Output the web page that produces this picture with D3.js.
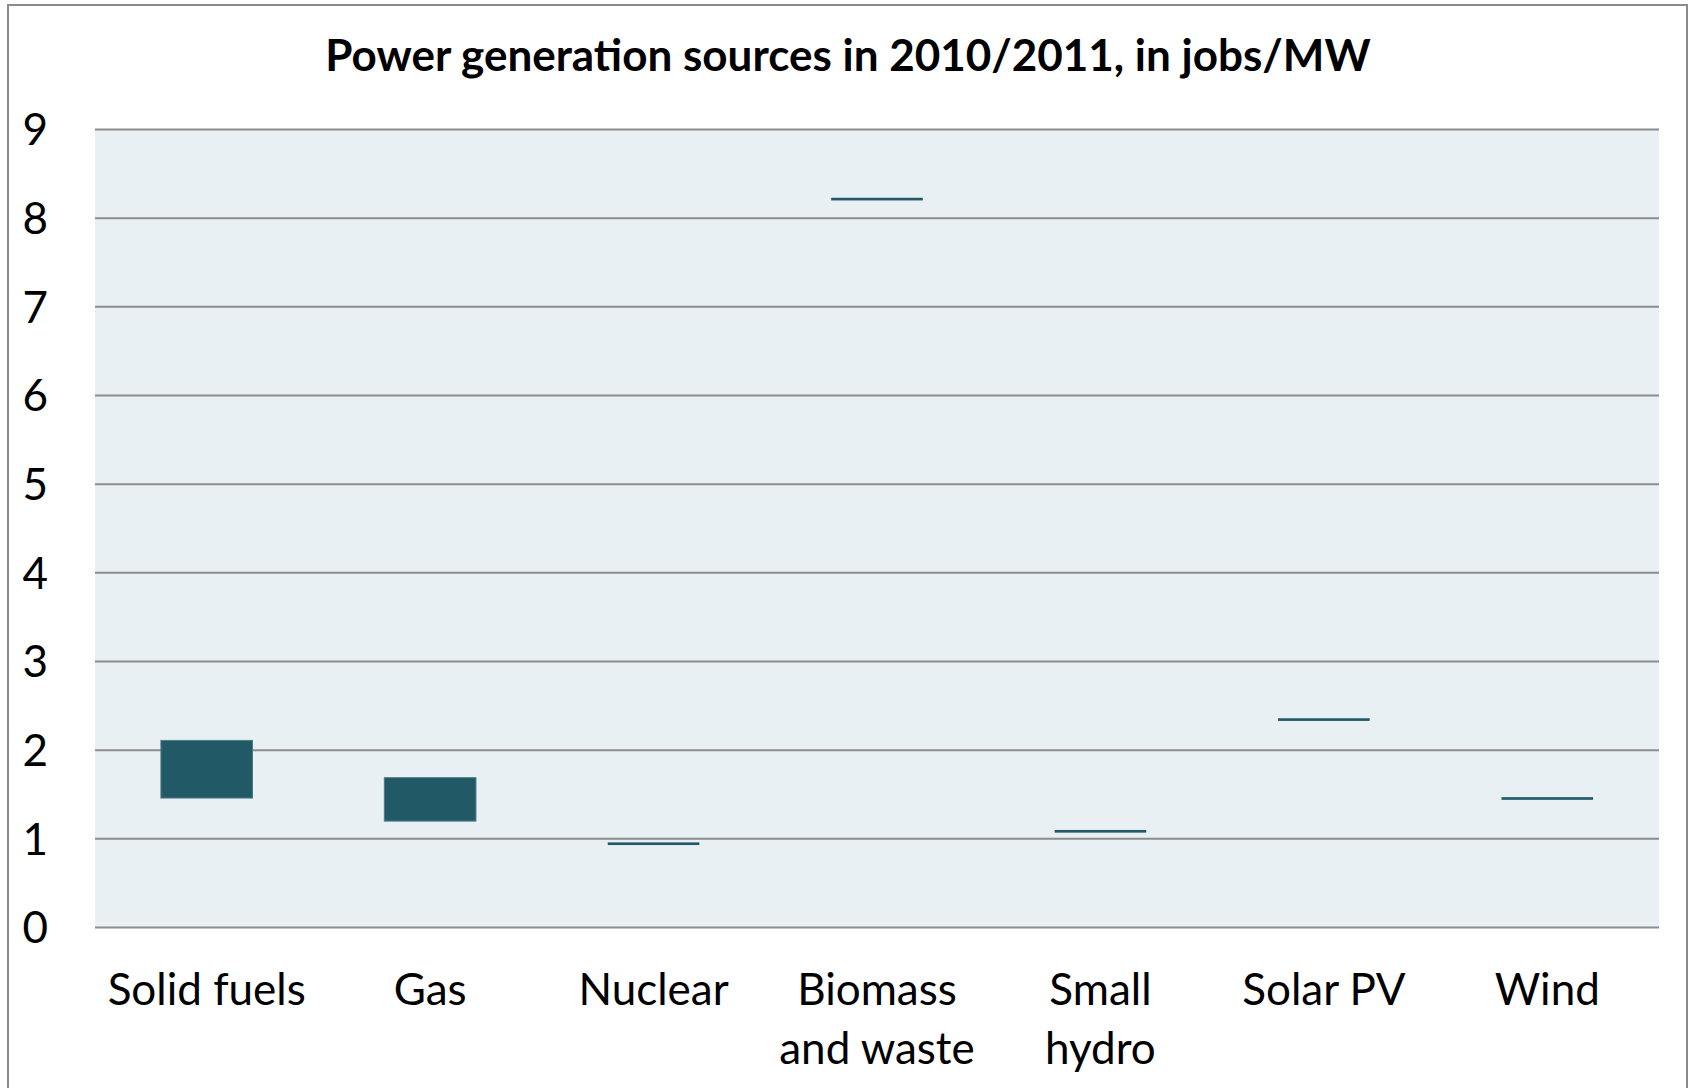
<!DOCTYPE html>
<html>
<head>
<meta charset="utf-8">
<script src="https://cdn.jsdelivr.net/npm/d3@7"></script>
<style>
  html, body { margin: 0; padding: 0; background: #fff; }
  text { font-family: Lato, "Open Sans", sans-serif; fill: #000; }
</style>
</head>
<body>
<script>
let width = 1691
let height = 1088

// jobs per MW, low and high end of each range
let categories = ["Solid fuels", "Gas", "Nuclear", "Biomass and waste", "Small hydro", "Solar PV", "Wind"]
let lowValues  = [1.46, 1.20, 0.93, 8.20, 1.07, 2.33, 1.44]
let highValues = [2.11, 1.69, 0.96, 8.23, 1.10, 2.36, 1.47]
let tickLabels = [["Solid fuels"], ["Gas"], ["Nuclear"], ["Biomass", "and waste"], ["Small", "hydro"], ["Solar PV"], ["Wind"]]
let yTicks = [0, 1, 2, 3, 4, 5, 6, 7, 8, 9]

let title = "Power generation sources in 2010/2011, in jobs/MW"

let plot = { left: 95, right: 1659, top: 129.5, bottom: 927.5 }

let data = categories.map((c, i) => ({ name: c, low: lowValues[i], high: highValues[i], label: tickLabels[i] }))

let x = d3.scaleBand()
    .domain(categories)
    .range([plot.left, plot.right])
    .paddingInner(0.59)
    .paddingOuter(0.295)

let y = d3.scaleLinear()
    .domain([0, 9])
    .range([plot.bottom, plot.top])

let svg = d3.select('body').append('svg')
    .attr('width', width)
    .attr('height', height)

// outer frame (bottom edge runs off the picture)
svg.append('rect')
    .attr('x', 8)
    .attr('y', 5)
    .attr('width', 1679)
    .attr('height', height + 20)
    .attr('fill', '#fff')
    .attr('stroke', '#8a8a8a')
    .attr('stroke-width', 2)

svg.append('text')
    .attr('x', 848)
    .attr('y', 71)
    .attr('text-anchor', 'middle')
    .attr('font-size', 44)
    .attr('font-weight', 'bold')
    .text(title)

svg.append('rect')
    .attr('x', plot.left)
    .attr('y', plot.top)
    .attr('width', plot.right - plot.left)
    .attr('height', plot.bottom - plot.top)
    .attr('fill', '#e8f0f4')

svg.append('g')
    .selectAll('line')
    .data(yTicks)
    .enter().append('line')
    .attr('x1', plot.left)
    .attr('x2', plot.right)
    .attr('y1', d => y(d))
    .attr('y2', d => y(d))
    .attr('stroke', '#8c8c8c')
    .attr('stroke-width', 2)

svg.append('g')
    .selectAll('text')
    .data(yTicks)
    .enter().append('text')
    .attr('x', 48)
    .attr('y', d => y(d))
    .attr('dy', '0.36em')
    .attr('text-anchor', 'end')
    .attr('font-size', 44)
    .text(d => d)

// floating range bars
svg.append('g')
    .selectAll('rect')
    .data(data)
    .enter().append('rect')
    .attr('x', d => x(d.name))
    .attr('width', x.bandwidth())
    .attr('y', d => y(d.high))
    .attr('height', d => Math.max(y(d.low) - y(d.high), 2.5))
    .attr('fill', '#225966')
    .attr('stroke', '#4d7b88')
    .attr('stroke-width', d => (d.high - d.low) > 0.1 ? 1 : 0)

let labels = svg.append('g')
    .selectAll('text')
    .data(data)
    .enter().append('text')
    .attr('text-anchor', 'middle')
    .attr('font-size', 44)

labels.selectAll('tspan')
    .data(d => d.label.map(l => ({ text: l, cx: x(d.name) + x.bandwidth() / 2 })))
    .enter().append('tspan')
    .attr('x', d => d.cx)
    .attr('y', (d, i) => 1005 + i * 59)
    .text(d => d.text)
</script>
</body>
</html>
